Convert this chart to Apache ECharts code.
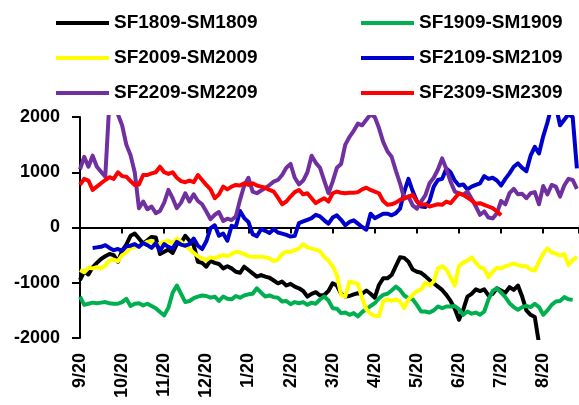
<!DOCTYPE html>
<html>
<head>
<meta charset="utf-8">
<title>SF-SM 9月价差</title>
<script src="https://cdn.jsdelivr.net/npm/echarts/dist/echarts.min.js"></script>
<style>
  html, body { margin: 0; padding: 0; background: #fff; }
  #main { width: 579px; height: 405px; }
</style>
</head>
<body>
<div id="main"></div>
<script type="text/javascript">
// --- 数据 (每 0.1 个月一个点, 从 9/20 开始) ---
var monthLabels = ['9/20','10/20','11/20','12/20','1/20','2/20','3/20','4/20','5/20','6/20','7/20','8/20'];
var step = 0.1;

var sf1809 = [-950,-800,-850,-720,-640,-570,-520,-480,-500,-620,-420,-310,-150,-110,-200,-290,-230,-170,-180,-480,-440,-400,-460,-300,
  -280,-150,-240,-320,-620,-640,-710,-600,-640,-660,-740,-700,-740,-800,-820,-710,-770,-830,-890,-860,-890,-910,-960,-1010,
  -980,-1050,-1020,-1070,-1100,-1150,-1250,-1200,-1170,-1230,-1220,-1150,-1010,-1050,-1200,-1250,-1240,-1210,-1190,-1200,-1140,-1200,-1270,
  -1040,-920,-920,-860,-700,-540,-550,-620,-760,-800,-820,-880,-950,-1010,-1070,-1130,-1220,-1330,-1470,-1670,-1490,-1250,-1200,-1120,
  -1150,-1120,-1230,-1200,-1100,-1140,-1180,-1080,-1130,-1050,-1250,-1500,-1580,-1620,-2100,
  null,null,null,null,null,null,null,null,null];

var sf1909 = [-1250,-1400,-1380,-1360,-1370,-1360,-1350,-1370,-1380,-1380,-1350,-1290,-1420,-1380,-1370,-1410,-1380,-1420,-1460,-1530,-1590,-1450,-1180,-1050,
  -1200,-1350,-1330,-1280,-1250,-1230,-1240,-1270,-1250,-1330,-1250,-1290,-1300,-1240,-1270,-1230,-1210,-1200,-1100,-1180,-1250,-1230,-1260,-1270,
  -1340,-1330,-1390,-1350,-1370,-1350,-1400,-1360,-1380,-1300,-1250,-1320,-1460,-1470,-1550,-1540,-1580,-1550,-1610,-1530,-1480,-1420,-1370,
  -1280,-1220,-1200,-1140,-1070,-1130,-1230,-1280,-1300,-1400,-1520,-1520,-1540,-1500,-1430,-1460,-1430,-1430,-1420,-1480,-1580,-1520,-1560,-1540,
  -1580,-1520,-1300,-1150,-1100,-1180,-1260,-1370,-1440,-1490,-1440,-1420,-1440,-1380,-1440,-1580,-1500,-1400,-1340,-1330,-1260,-1300,-1310,
  null];

var sf2009 = [-770,-810,-730,-740,-720,-740,-690,-600,-580,-610,-500,-450,-370,-350,-330,-300,-260,-240,-330,-290,-260,-240,-290,-200,
  -260,-330,-390,-460,-520,-560,-590,-540,-560,-520,-500,-520,-480,-440,-450,-480,-520,-530,-530,-530,-540,-560,-610,-580,
  -480,-440,-440,-410,-380,-300,-360,-380,-400,-430,-530,-600,-700,-860,-1220,-1250,-980,-1000,-1020,-1280,-1480,-1560,-1600,
  -1600,-1340,-1300,-1330,-1300,-1340,-1460,-1300,-1220,-1150,-1120,-1000,-1050,-980,-740,-700,-760,-900,-1050,-700,-630,-600,-540,-640,
  -720,-750,-900,-800,-730,-740,-700,-680,-650,-680,-700,-700,-760,-780,-620,-470,-380,-450,-470,-510,-480,-680,-590,-530];

var sf2109 = [null,null,null,-370,-360,-350,-320,-370,-410,-390,-420,-340,-330,-300,-350,-280,-320,-370,-280,-420,-300,-350,-380,-260,
  -310,-330,-300,-200,-330,-390,-250,-10,40,-150,-110,-240,30,10,300,170,100,-120,-160,-30,-60,-100,-30,-90,
  -110,-135,-165,-150,80,110,140,170,230,200,130,70,180,220,140,40,100,130,70,10,-40,250,170,
  210,250,250,220,260,340,650,880,660,480,380,370,480,740,860,880,1070,1000,850,760,780,690,740,770,
  800,930,880,900,850,760,880,980,1100,1160,1080,1020,1300,1460,1340,1650,1900,2200,2200,1850,1950,2050,2000,1070];

var sf2209 = [1050,1280,1100,1300,1100,1010,920,2300,2300,2050,1850,1500,1310,1000,350,470,330,380,260,300,450,680,530,350,
  450,620,470,600,480,420,290,150,230,280,120,160,135,200,500,760,900,650,620,670,710,770,830,860,
  950,1080,1150,900,780,850,1000,1300,1170,1080,850,620,830,1080,1150,1500,1640,1750,1880,1850,1950,2050,2000,
  1800,1550,1380,1280,1030,800,520,560,400,340,470,580,800,900,1050,1250,1060,830,650,620,590,650,520,380,
  230,290,180,165,260,480,420,620,700,600,610,530,620,640,420,750,600,770,740,560,760,880,860,700];

var sf2309 = [770,880,850,680,740,800,860,910,880,1000,930,920,840,770,780,950,950,980,1000,1100,1000,970,1000,900,
  840,820,850,820,950,860,770,690,530,600,740,690,740,770,760,800,770,800,760,740,720,680,650,540,
  420,470,560,640,680,600,620,530,440,490,530,470,620,650,630,620,630,630,640,690,720,680,650,
  620,480,410,420,450,500,530,560,590,470,410,420,380,400,420,410,470,440,530,620,590,540,490,430,
  440,410,380,350,290,220,
  null,null,null,null,null,null,null,null,null,null,null,null,null,null,null,null,null,null];

var names  = ['SF1809-SM1809','SF1909-SM1909','SF2009-SM2009','SF2109-SM2109','SF2209-SM2209','SF2309-SM2309'];
var colors = ['#000000','#00B050','#FFFF00','#0000CC','#7030A0','#FF0000'];
var values = [sf1809, sf1909, sf2009, sf2109, sf2209, sf2309];

var font = 'Liberation Sans, Arial, sans-serif';

// [月份偏移, 值]
function toPoints(arr){
    var out = [];
    for (var i = 0; i < arr.length; i++) {
        out.push([+(i * step).toFixed(2), arr[i]]);
    }
    return out;
}

var series = [];
for (var k = 0; k < names.length; k++) {
    series.push({
        name: names[k],
        type: 'line',
        data: toPoints(values[k]),
        symbol: 'none',
        connectNulls: false,
        clip: true,
        color: colors[k],
        lineStyle: { width: 4, color: colors[k], join: 'round' }
    });
}

var legendBase = {
    orient: 'vertical',
    top: 7,
    icon: 'rect',
    itemWidth: 53,
    itemHeight: 4,
    itemGap: 13,
    selectedMode: false,
    textStyle: { fontFamily: font, fontSize: 19, fontWeight: 'bold', color: '#000', lineHeight: 22 }
};

var xMax = 11.85;

var myChart = echarts.init(document.getElementById('main'));
myChart.setOption({
    animation: false,
    backgroundColor: '#fff',
    legend: [
        echarts.util.merge({ left: 51, data: [names[0], names[2], names[4]] }, legendBase),
        echarts.util.merge({ left: 356, data: [names[1], names[3], names[5]] }, legendBase)
    ],
    grid: { left: 80, right: 0, top: 117, bottom: 67 },
    xAxis: [{
        // 0 轴上的轴线和刻度
        type: 'value', min: 0, max: xMax, interval: 1,
        axisLine: { onZero: true, lineStyle: { color: '#000', width: 2 } },
        axisTick: { show: true, length: 6, lineStyle: { color: '#000', width: 2 } },
        axisLabel: { show: false },
        splitLine: { show: false }
    }, {
        // 底部日期标签
        type: 'value', min: 0, max: xMax, interval: 1, position: 'bottom',
        axisLine: { show: false, onZero: false },
        axisTick: { show: false },
        splitLine: { show: false },
        axisLabel: {
            rotate: 90, margin: 15,
            fontFamily: font, fontSize: 18, fontWeight: 'bold', color: '#000',
            formatter: function(v){
                var r = Math.round(v);
                return Math.abs(v - r) < 1e-6 && monthLabels[r] ? monthLabels[r] : '';
            }
        }
    }],
    yAxis: {
        type: 'value', min: -2000, max: 2000, interval: 1000,
        axisLine: { show: true, onZero: false, lineStyle: { color: '#000', width: 2 } },
        axisTick: { show: true, length: 8, lineStyle: { color: '#000', width: 2 } },
        splitLine: { show: false },
        axisLabel: {
            margin: 20, fontFamily: font, fontSize: 18, fontWeight: 'bold', color: '#000',
            formatter: function(v){ return String(v); }
        }
    },
    series: series
});
</script>
</body>
</html>
